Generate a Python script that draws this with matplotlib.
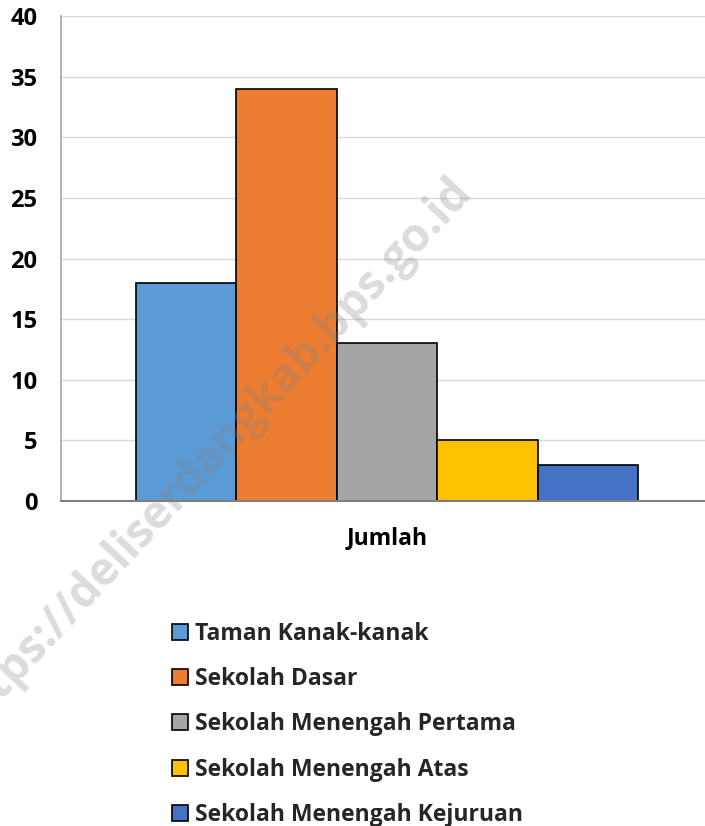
import numpy as np
import matplotlib.pyplot as plt

categories = ["Taman Kanak-kanak", "Sekolah Dasar", "Sekolah Menengah Pertama",
              "Sekolah Menengah Atas", "Sekolah Menengah Kejuruan"]
values = [18, 34, 13, 5, 3]
colors = ["#5B9BD5", "#ED7D31", "#A5A5A5", "#FFC000", "#4472C4"]
group_label = "Jumlah"
yticks = [0, 5, 10, 15, 20, 25, 30, 35, 40]

plt.rcParams['font.family'] = ['Open Sans', 'DejaVu Sans']
plt.rcParams['font.weight'] = 'bold'

W, H = 705, 826
fig = plt.figure(figsize=(W / 100, H / 100), dpi=100)
# axes: x 61..713 px, y 16..501 px
ax = fig.add_axes([61 / W, 1 - 501 / H, (713 - 61) / W, (501 - 16) / H])

n = len(values)
bw = 0.77 / n
offsets = (np.arange(n) - (n - 1) / 2) * bw
for off, v, c, lab in zip(offsets, values, colors, categories):
    ax.bar(off, v, width=bw, color=c, edgecolor='black', linewidth=1.2,
           label=lab, zorder=3)

ax.set_xlim(-0.5, 0.5)
ax.set_ylim(0, 40)
ax.set_yticks(yticks)
ax.set_yticklabels([str(t) for t in yticks], fontsize=17, fontweight='bold')
ax.set_xticks([0])
ax.set_xticklabels([group_label], fontsize=16.5, fontweight='bold')
ax.tick_params(axis='both', length=0)
ax.tick_params(axis='y', pad=17)
ax.tick_params(axis='x', pad=18)

ax.grid(axis='y', color='#d9d9d9', linewidth=1, zorder=0)
for s in ['top', 'right']:
    ax.spines[s].set_visible(False)
ax.spines['left'].set_color('#a6a6a6')
ax.spines['left'].set_linewidth(1.2)
ax.spines['bottom'].set_color('#7f7f7f')
ax.spines['bottom'].set_linewidth(1.5)
ax.spines['bottom'].set_zorder(4)

leg = fig.legend(loc='upper left', bbox_to_anchor=(151 / W, 1 - 601 / H),
                 frameon=False, handlelength=0.7, handleheight=0.7,
                 handletextpad=0.3, labelspacing=0.93,
                 prop={'weight': 'bold', 'size': 16.5})
for t in leg.get_texts():
    t.set_color('#262626')

# watermark
fig.text(210 / W, 1 - 455 / H, "https://deliserdangkab.bps.go.id", rotation=47,
         ha='center', va='center', fontsize=33, fontweight='bold',
         color='#808080', alpha=0.28, zorder=10)

fig.savefig("out.png", dpi=100)
